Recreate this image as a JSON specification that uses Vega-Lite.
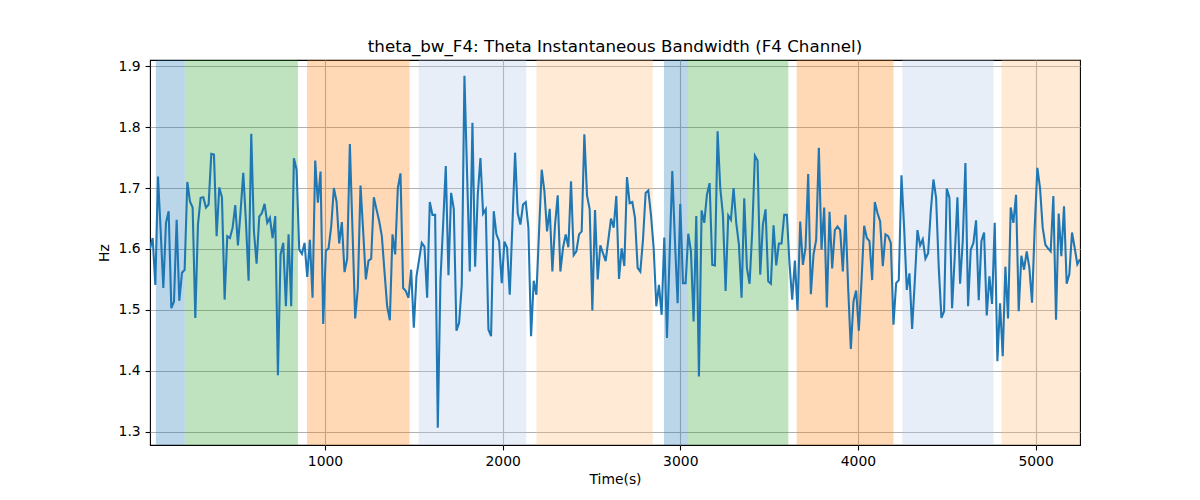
{
  "$schema": "https://vega.github.io/schema/vega-lite/v6.json",
  "description": "Theta instantaneous bandwidth, F4 channel, with shaded phases",
  "width": 930,
  "height": 385,
  "autosize": "none",
  "padding": {"left": 150, "top": 60, "right": 120, "bottom": 55},
  "title": {
    "text": "theta_bw_F4: Theta Instantaneous Bandwidth (F4 Channel)",
    "fontSize": 16.7,
    "fontWeight": "normal",
    "color": "black",
    "anchor": "middle",
    "baseline": "alphabetic",
    "offset": 9,
    "dy": 19
  },
  "datasets": {
    "phases": [
      {"start": 48, "end": 211, "phase": "A"},
      {"start": 211, "end": 848, "phase": "B"},
      {"start": 899, "end": 1476, "phase": "C"},
      {"start": 1527, "end": 2133, "phase": "D"},
      {"start": 2190, "end": 2845, "phase": "E"},
      {"start": 2908, "end": 3043, "phase": "A"},
      {"start": 3043, "end": 3608, "phase": "B"},
      {"start": 3655, "end": 4200, "phase": "C"},
      {"start": 4250, "end": 4763, "phase": "D"},
      {"start": 4808, "end": 5250, "phase": "E"}
    ],
    "series": [
      {"t": 15, "v": 1.6}, {"t": 30, "v": 1.618}, {"t": 45, "v": 1.541}, {"t": 60, "v": 1.719}, {"t": 75, "v": 1.63},
      {"t": 90, "v": 1.536}, {"t": 105, "v": 1.643}, {"t": 120, "v": 1.662}, {"t": 135, "v": 1.503}, {"t": 150, "v": 1.514},
      {"t": 165, "v": 1.648}, {"t": 180, "v": 1.515}, {"t": 195, "v": 1.561}, {"t": 210, "v": 1.566}, {"t": 225, "v": 1.71},
      {"t": 240, "v": 1.678}, {"t": 255, "v": 1.668}, {"t": 270, "v": 1.487}, {"t": 285, "v": 1.64}, {"t": 300, "v": 1.684},
      {"t": 315, "v": 1.685}, {"t": 330, "v": 1.668}, {"t": 345, "v": 1.673}, {"t": 360, "v": 1.756}, {"t": 375, "v": 1.755},
      {"t": 390, "v": 1.621}, {"t": 405, "v": 1.701}, {"t": 420, "v": 1.685}, {"t": 435, "v": 1.517}, {"t": 450, "v": 1.621},
      {"t": 465, "v": 1.618}, {"t": 480, "v": 1.635}, {"t": 495, "v": 1.672}, {"t": 510, "v": 1.606}, {"t": 525, "v": 1.662},
      {"t": 540, "v": 1.725}, {"t": 555, "v": 1.645}, {"t": 570, "v": 1.548}, {"t": 585, "v": 1.789}, {"t": 600, "v": 1.629},
      {"t": 615, "v": 1.576}, {"t": 630, "v": 1.653}, {"t": 645, "v": 1.659}, {"t": 660, "v": 1.674}, {"t": 675, "v": 1.643},
      {"t": 690, "v": 1.651}, {"t": 705, "v": 1.618}, {"t": 720, "v": 1.654}, {"t": 735, "v": 1.393}, {"t": 750, "v": 1.591},
      {"t": 765, "v": 1.61}, {"t": 780, "v": 1.506}, {"t": 795, "v": 1.624}, {"t": 810, "v": 1.506}, {"t": 825, "v": 1.749},
      {"t": 840, "v": 1.73}, {"t": 855, "v": 1.599}, {"t": 870, "v": 1.592}, {"t": 885, "v": 1.61}, {"t": 900, "v": 1.554},
      {"t": 915, "v": 1.615}, {"t": 930, "v": 1.52}, {"t": 945, "v": 1.745}, {"t": 960, "v": 1.676}, {"t": 975, "v": 1.727},
      {"t": 990, "v": 1.477}, {"t": 1005, "v": 1.597}, {"t": 1020, "v": 1.601}, {"t": 1035, "v": 1.637}, {"t": 1050, "v": 1.7},
      {"t": 1065, "v": 1.678}, {"t": 1080, "v": 1.609}, {"t": 1095, "v": 1.644}, {"t": 1110, "v": 1.562}, {"t": 1125, "v": 1.584},
      {"t": 1140, "v": 1.772}, {"t": 1155, "v": 1.63}, {"t": 1170, "v": 1.486}, {"t": 1185, "v": 1.536}, {"t": 1200, "v": 1.704},
      {"t": 1215, "v": 1.629}, {"t": 1230, "v": 1.55}, {"t": 1245, "v": 1.581}, {"t": 1260, "v": 1.584}, {"t": 1275, "v": 1.685},
      {"t": 1290, "v": 1.665}, {"t": 1305, "v": 1.646}, {"t": 1320, "v": 1.621}, {"t": 1335, "v": 1.563}, {"t": 1350, "v": 1.506},
      {"t": 1365, "v": 1.483}, {"t": 1380, "v": 1.624}, {"t": 1395, "v": 1.591}, {"t": 1410, "v": 1.7}, {"t": 1425, "v": 1.724},
      {"t": 1440, "v": 1.536}, {"t": 1455, "v": 1.531}, {"t": 1470, "v": 1.52}, {"t": 1485, "v": 1.566}, {"t": 1500, "v": 1.471},
      {"t": 1515, "v": 1.555}, {"t": 1530, "v": 1.583}, {"t": 1545, "v": 1.61}, {"t": 1560, "v": 1.604}, {"t": 1575, "v": 1.52},
      {"t": 1590, "v": 1.677}, {"t": 1605, "v": 1.656}, {"t": 1620, "v": 1.656}, {"t": 1635, "v": 1.307}, {"t": 1650, "v": 1.55},
      {"t": 1665, "v": 1.64}, {"t": 1680, "v": 1.736}, {"t": 1695, "v": 1.557}, {"t": 1710, "v": 1.692}, {"t": 1725, "v": 1.666},
      {"t": 1740, "v": 1.466}, {"t": 1755, "v": 1.479}, {"t": 1770, "v": 1.541}, {"t": 1785, "v": 1.884}, {"t": 1800, "v": 1.722},
      {"t": 1815, "v": 1.563}, {"t": 1830, "v": 1.807}, {"t": 1845, "v": 1.571}, {"t": 1860, "v": 1.689}, {"t": 1875, "v": 1.749},
      {"t": 1890, "v": 1.658}, {"t": 1905, "v": 1.665}, {"t": 1920, "v": 1.468}, {"t": 1935, "v": 1.457}, {"t": 1950, "v": 1.662},
      {"t": 1965, "v": 1.624}, {"t": 1980, "v": 1.613}, {"t": 1995, "v": 1.544}, {"t": 2010, "v": 1.612}, {"t": 2025, "v": 1.602},
      {"t": 2040, "v": 1.525}, {"t": 2055, "v": 1.64}, {"t": 2070, "v": 1.758}, {"t": 2085, "v": 1.659}, {"t": 2100, "v": 1.64},
      {"t": 2115, "v": 1.673}, {"t": 2130, "v": 1.677}, {"t": 2145, "v": 1.635}, {"t": 2160, "v": 1.457}, {"t": 2175, "v": 1.548},
      {"t": 2190, "v": 1.525}, {"t": 2205, "v": 1.629}, {"t": 2220, "v": 1.73}, {"t": 2235, "v": 1.695}, {"t": 2250, "v": 1.629},
      {"t": 2265, "v": 1.666}, {"t": 2280, "v": 1.563}, {"t": 2295, "v": 1.64}, {"t": 2310, "v": 1.688}, {"t": 2325, "v": 1.563},
      {"t": 2340, "v": 1.602}, {"t": 2355, "v": 1.624}, {"t": 2370, "v": 1.603}, {"t": 2385, "v": 1.711}, {"t": 2400, "v": 1.59},
      {"t": 2415, "v": 1.596}, {"t": 2430, "v": 1.624}, {"t": 2445, "v": 1.629}, {"t": 2460, "v": 1.788}, {"t": 2475, "v": 1.688},
      {"t": 2490, "v": 1.665}, {"t": 2505, "v": 1.499}, {"t": 2520, "v": 1.664}, {"t": 2535, "v": 1.55}, {"t": 2550, "v": 1.606},
      {"t": 2565, "v": 1.593}, {"t": 2580, "v": 1.58}, {"t": 2595, "v": 1.615}, {"t": 2610, "v": 1.65}, {"t": 2625, "v": 1.635},
      {"t": 2640, "v": 1.687}, {"t": 2655, "v": 1.551}, {"t": 2670, "v": 1.601}, {"t": 2685, "v": 1.572}, {"t": 2700, "v": 1.718},
      {"t": 2715, "v": 1.675}, {"t": 2730, "v": 1.677}, {"t": 2745, "v": 1.651}, {"t": 2760, "v": 1.569}, {"t": 2775, "v": 1.563},
      {"t": 2790, "v": 1.615}, {"t": 2805, "v": 1.692}, {"t": 2820, "v": 1.696}, {"t": 2835, "v": 1.656}, {"t": 2850, "v": 1.602},
      {"t": 2865, "v": 1.506}, {"t": 2880, "v": 1.541}, {"t": 2895, "v": 1.492}, {"t": 2910, "v": 1.619}, {"t": 2925, "v": 1.454},
      {"t": 2940, "v": 1.591}, {"t": 2955, "v": 1.728}, {"t": 2970, "v": 1.613}, {"t": 2985, "v": 1.511}, {"t": 3000, "v": 1.674},
      {"t": 3015, "v": 1.544}, {"t": 3030, "v": 1.544}, {"t": 3045, "v": 1.625}, {"t": 3060, "v": 1.596}, {"t": 3075, "v": 1.481},
      {"t": 3090, "v": 1.654}, {"t": 3105, "v": 1.391}, {"t": 3120, "v": 1.663}, {"t": 3135, "v": 1.643}, {"t": 3150, "v": 1.689},
      {"t": 3165, "v": 1.708}, {"t": 3180, "v": 1.574}, {"t": 3195, "v": 1.573}, {"t": 3210, "v": 1.793}, {"t": 3225, "v": 1.7},
      {"t": 3240, "v": 1.656}, {"t": 3255, "v": 1.531}, {"t": 3270, "v": 1.655}, {"t": 3285, "v": 1.648}, {"t": 3300, "v": 1.7},
      {"t": 3315, "v": 1.643}, {"t": 3330, "v": 1.607}, {"t": 3345, "v": 1.52}, {"t": 3360, "v": 1.683}, {"t": 3375, "v": 1.569},
      {"t": 3390, "v": 1.543}, {"t": 3405, "v": 1.629}, {"t": 3420, "v": 1.753}, {"t": 3435, "v": 1.745}, {"t": 3450, "v": 1.558},
      {"t": 3465, "v": 1.64}, {"t": 3480, "v": 1.665}, {"t": 3495, "v": 1.547}, {"t": 3510, "v": 1.543}, {"t": 3525, "v": 1.639},
      {"t": 3540, "v": 1.573}, {"t": 3555, "v": 1.609}, {"t": 3570, "v": 1.609}, {"t": 3585, "v": 1.656}, {"t": 3600, "v": 1.656},
      {"t": 3615, "v": 1.575}, {"t": 3630, "v": 1.517}, {"t": 3645, "v": 1.581}, {"t": 3660, "v": 1.499}, {"t": 3675, "v": 1.645},
      {"t": 3690, "v": 1.574}, {"t": 3705, "v": 1.602}, {"t": 3720, "v": 1.723}, {"t": 3735, "v": 1.526}, {"t": 3750, "v": 1.591},
      {"t": 3765, "v": 1.615}, {"t": 3780, "v": 1.766}, {"t": 3795, "v": 1.599}, {"t": 3810, "v": 1.668}, {"t": 3825, "v": 1.504},
      {"t": 3840, "v": 1.661}, {"t": 3855, "v": 1.568}, {"t": 3870, "v": 1.631}, {"t": 3885, "v": 1.637}, {"t": 3900, "v": 1.631},
      {"t": 3915, "v": 1.563}, {"t": 3930, "v": 1.656}, {"t": 3945, "v": 1.536}, {"t": 3960, "v": 1.436}, {"t": 3975, "v": 1.514},
      {"t": 3990, "v": 1.532}, {"t": 4005, "v": 1.466}, {"t": 4020, "v": 1.547}, {"t": 4035, "v": 1.638}, {"t": 4050, "v": 1.618},
      {"t": 4065, "v": 1.613}, {"t": 4080, "v": 1.549}, {"t": 4095, "v": 1.677}, {"t": 4110, "v": 1.659}, {"t": 4125, "v": 1.645},
      {"t": 4140, "v": 1.572}, {"t": 4155, "v": 1.624}, {"t": 4170, "v": 1.621}, {"t": 4185, "v": 1.61}, {"t": 4200, "v": 1.476},
      {"t": 4215, "v": 1.544}, {"t": 4230, "v": 1.549}, {"t": 4245, "v": 1.721}, {"t": 4260, "v": 1.635}, {"t": 4275, "v": 1.533},
      {"t": 4290, "v": 1.56}, {"t": 4305, "v": 1.469}, {"t": 4320, "v": 1.547}, {"t": 4335, "v": 1.631}, {"t": 4350, "v": 1.606},
      {"t": 4365, "v": 1.616}, {"t": 4380, "v": 1.584}, {"t": 4395, "v": 1.593}, {"t": 4410, "v": 1.662}, {"t": 4425, "v": 1.714},
      {"t": 4440, "v": 1.684}, {"t": 4455, "v": 1.569}, {"t": 4470, "v": 1.487}, {"t": 4485, "v": 1.498}, {"t": 4500, "v": 1.699},
      {"t": 4515, "v": 1.684}, {"t": 4530, "v": 1.503}, {"t": 4545, "v": 1.588}, {"t": 4560, "v": 1.685}, {"t": 4575, "v": 1.543},
      {"t": 4590, "v": 1.613}, {"t": 4605, "v": 1.741}, {"t": 4620, "v": 1.506}, {"t": 4635, "v": 1.599}, {"t": 4650, "v": 1.61},
      {"t": 4665, "v": 1.647}, {"t": 4680, "v": 1.516}, {"t": 4695, "v": 1.613}, {"t": 4710, "v": 1.627}, {"t": 4725, "v": 1.491},
      {"t": 4740, "v": 1.555}, {"t": 4755, "v": 1.51}, {"t": 4770, "v": 1.643}, {"t": 4785, "v": 1.416}, {"t": 4800, "v": 1.511},
      {"t": 4815, "v": 1.424}, {"t": 4830, "v": 1.571}, {"t": 4845, "v": 1.486}, {"t": 4860, "v": 1.668}, {"t": 4875, "v": 1.643},
      {"t": 4890, "v": 1.689}, {"t": 4905, "v": 1.498}, {"t": 4920, "v": 1.589}, {"t": 4935, "v": 1.566}, {"t": 4950, "v": 1.596},
      {"t": 4965, "v": 1.569}, {"t": 4980, "v": 1.512}, {"t": 4995, "v": 1.635}, {"t": 5010, "v": 1.733}, {"t": 5025, "v": 1.7},
      {"t": 5040, "v": 1.635}, {"t": 5055, "v": 1.607}, {"t": 5070, "v": 1.601}, {"t": 5085, "v": 1.596}, {"t": 5100, "v": 1.687},
      {"t": 5115, "v": 1.484}, {"t": 5130, "v": 1.658}, {"t": 5145, "v": 1.588}, {"t": 5160, "v": 1.67}, {"t": 5175, "v": 1.543},
      {"t": 5190, "v": 1.559}, {"t": 5205, "v": 1.627}, {"t": 5220, "v": 1.602}, {"t": 5235, "v": 1.575}, {"t": 5250, "v": 1.583}
    ]
  },
  "layer": [
    {
      "data": {"name": "phases"},
      "mark": {"type": "rect", "opacity": 0.3, "clip": true},
      "encoding": {
        "x": {
          "field": "start",
          "type": "quantitative",
          "title": "Time(s)",
          "scale": {"domain": [15, 5250], "nice": false, "zero": false},
          "axis": {"values": [1000, 2000, 3000, 4000, 5000], "format": "d"}
        },
        "x2": {"field": "end"},
        "color": {
          "field": "phase",
          "type": "nominal",
          "scale": {
            "domain": ["A", "B", "C", "D", "E"],
            "range": ["#1f77b4", "#2ca02c", "#ff7f0e", "#aec7e8", "#ffbb78"]
          },
          "legend": null
        }
      }
    },
    {
      "data": {"name": "series"},
      "mark": {"type": "line", "color": "#1f77b4", "strokeWidth": 2.08, "clip": true},
      "encoding": {
        "x": {
          "field": "t",
          "type": "quantitative",
          "title": "Time(s)",
          "scale": {"domain": [15, 5250], "nice": false, "zero": false},
          "axis": {"values": [1000, 2000, 3000, 4000, 5000], "format": "d"}
        },
        "y": {
          "field": "v",
          "type": "quantitative",
          "title": "Hz",
          "scale": {"domain": [1.2785, 1.91], "nice": false, "zero": false},
          "axis": {"values": [1.3, 1.4, 1.5, 1.6, 1.7, 1.8, 1.9], "format": ".1f", "titlePadding": 7}
        }
      }
    }
  ],
  "config": {
    "font": "DejaVu Sans",
    "view": {"stroke": "black", "strokeWidth": 1.1},
    "axis": {
      "grid": true,
      "gridColor": "#b0b0b0",
      "gridWidth": 1.1,
      "domain": false,
      "ticks": true,
      "tickColor": "black",
      "tickSize": 4.9,
      "tickWidth": 1.1,
      "labelPadding": 4.9,
      "labelFontSize": 13.9,
      "labelColor": "black",
      "labelFlush": false,
      "labelBound": false,
      "titleFontSize": 13.9,
      "titleFontWeight": "normal",
      "titleColor": "black",
      "titlePadding": 4
    }
  }
}
